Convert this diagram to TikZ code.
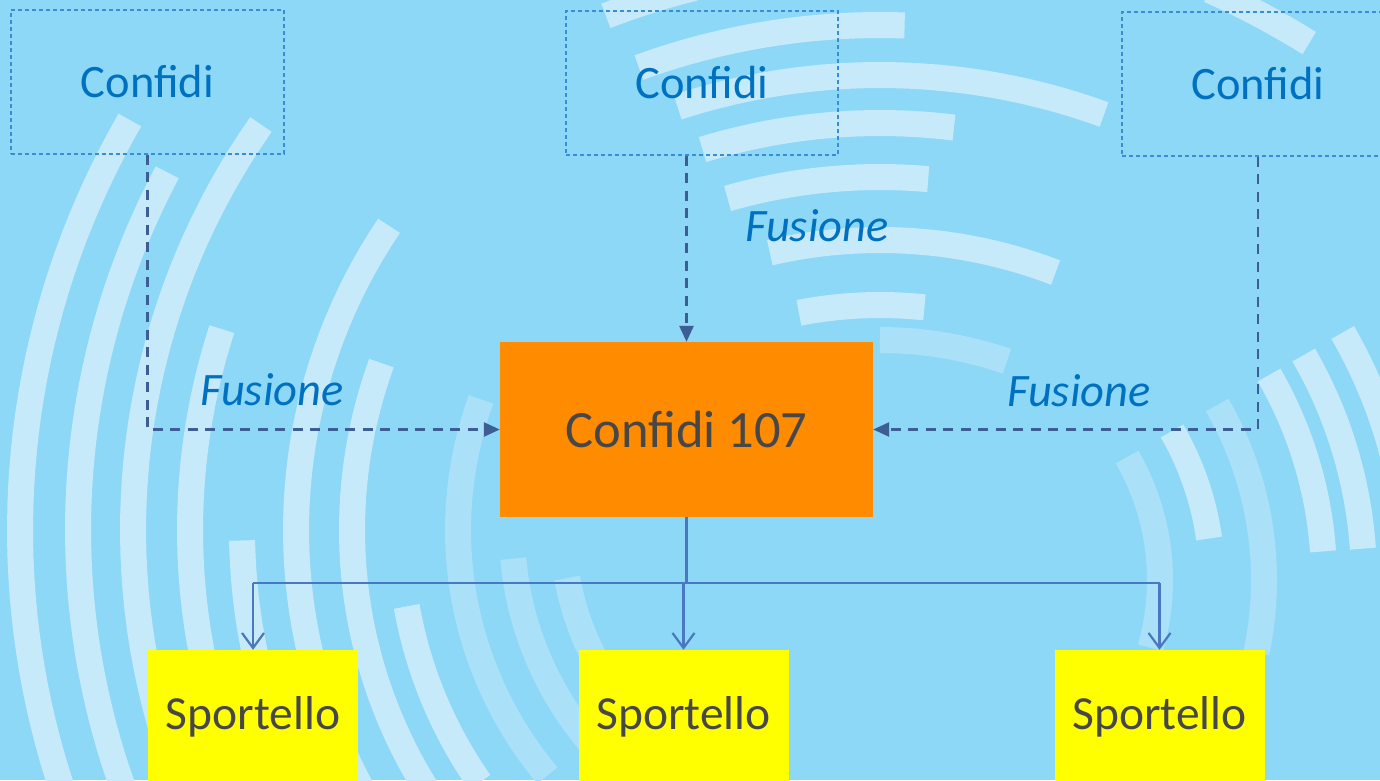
\documentclass[tikz,border=0pt]{standalone}
\usepackage{fontspec}
\setmainfont{Carlito}
\usetikzlibrary{arrows.meta}

\definecolor{bgblue}{HTML}{8DD8F7}
\definecolor{wave}{HTML}{C6EAFA}
\definecolor{wavefaint}{HTML}{AAE0F8}
\definecolor{confiditext}{HTML}{0070C0}
\definecolor{confidiframe}{HTML}{3A8CD4}
\definecolor{mergeline}{HTML}{3C5E94}
\definecolor{branchline}{HTML}{4A78C0}
\definecolor{darktext}{HTML}{474747}
\definecolor{mainfill}{HTML}{FF8C00}
\definecolor{deskfill}{HTML}{FFFF00}

\begin{document}
\begin{tikzpicture}[x=1pt,y=-1pt,
  wavestripe/.style={line width=26pt, wave},
  wavestripefaint/.style={line width=26pt, wavefaint},
  confidibox/.style={draw=confidiframe, line width=1.3pt, dash pattern=on 4pt off 3pt,
    minimum width=273pt, minimum height=144pt, inner sep=0pt,
    text=confiditext, font=\fontsize{46.5}{55}\selectfont},
  mainbox/.style={fill=mainfill, minimum width=373pt, minimum height=175pt, inner sep=0pt,
    text=darktext, font=\fontsize{52.5}{62}\selectfont},
  deskbox/.style={fill=deskfill, minimum width=210pt, minimum height=134pt, inner sep=0pt,
    text=darktext, font=\fontsize{47.5}{56}\selectfont},
  mergelabel/.style={text=confiditext, inner sep=0pt, font=\fontsize{46.5}{55}\selectfont\itshape},
  merge/.style={mergeline, line width=2.6pt, dash pattern=on 10pt off 7.5pt,
    -{Triangle[length=16pt,width=14pt]}},
  branch/.style={branchline, line width=2.2pt},
  brancharrow/.style={branch, -{Straight Barb[length=15pt,width=22pt,line width=2.2pt]}}
]
\useasboundingbox (0,0) rectangle (1380,780);
\clip (0,0) rectangle (1380,780);
\fill[bgblue] (0,0) rectangle (1380,780);

% left family of waves
\foreach \r/\a/\b in {820/150/200, 762/152/200, 707/145/205, 650/162/205,
                      544/146/210, 488/160/212, 598/181/205, 440/190/215}
  \draw[wavestripe] plot[domain=\a:\b, samples=40] ({840+\r*cos(\x)},{530-\r*sin(\x)});
\foreach \r/\a/\b in {382/160/220, 328/185/225, 277/190/230}
  \draw[wavestripefaint] plot[domain=\a:\b, samples=40] ({840+\r*cos(\x)},{530-\r*sin(\x)});

% upper family of waves
\foreach \r/\a/\b in {765/104/111, 705/88/110, 655/70/108, 607/83/107,
                      553/85/106, 490/69/103, 425/84/101, 810/58/66}
  \draw[wavestripe] plot[domain=\a:\b, samples=40] ({880+\r*cos(\x)},{730-\r*sin(\x)});
\draw[wavestripefaint] plot[domain=71:90, samples=40] ({880+390*cos(\x)},{730-390*sin(\x)});

% right family of waves
\foreach \r/\a/\b in {298/8/30, 410/4/30, 450/4/30, 495/0/30}
  \draw[wavestripe] plot[domain=\a:\b, samples=40] ({914+\r*cos(\x)},{580-\r*sin(\x)});
\foreach \r/\a/\b in {246/-16/30, 350/-12/30}
  \draw[wavestripefaint] plot[domain=\a:\b, samples=40] ({914+\r*cos(\x)},{580-\r*sin(\x)});

% boxes
\node[confidibox] (c1) at (147.5,82) {Confidi};
\node[confidibox, minimum width=272pt] (c2) at (702,83) {Confidi};
\node[confidibox, minimum width=272pt] (c3) at (1258,84) {Confidi};
\node[mainbox] (main) at (686.5,429.5) {Confidi 107};
\node[deskbox] (d1) at (253,717) {Sportello};
\node[deskbox] (d2) at (683.5,717) {Sportello};
\node[deskbox] (d3) at (1159.5,717) {Sportello};

% mergers
\draw[merge] (c1.south) |- (main.west);
\draw[merge] (main.north |- c2.south) -- (main.north);
\draw[merge] (c3.south) |- (main.east);
\node[mergelabel, anchor=base] (f1) at (272,405) {Fusione};
\node[mergelabel, anchor=base] (f2) at (817,241) {Fusione};
\node[mergelabel, anchor=base] (f3) at (1079,406) {Fusione};

% branches
\coordinate (bus) at (686.5,583);
\draw[branch] (main.south) -- (bus);
\draw[branch] (d1.north |- bus) -- (d3.north |- bus);
\foreach \d in {d1,d2,d3}
  \draw[brancharrow] (\d.north |- bus) -- (\d.north);
\end{tikzpicture}
\end{document}
